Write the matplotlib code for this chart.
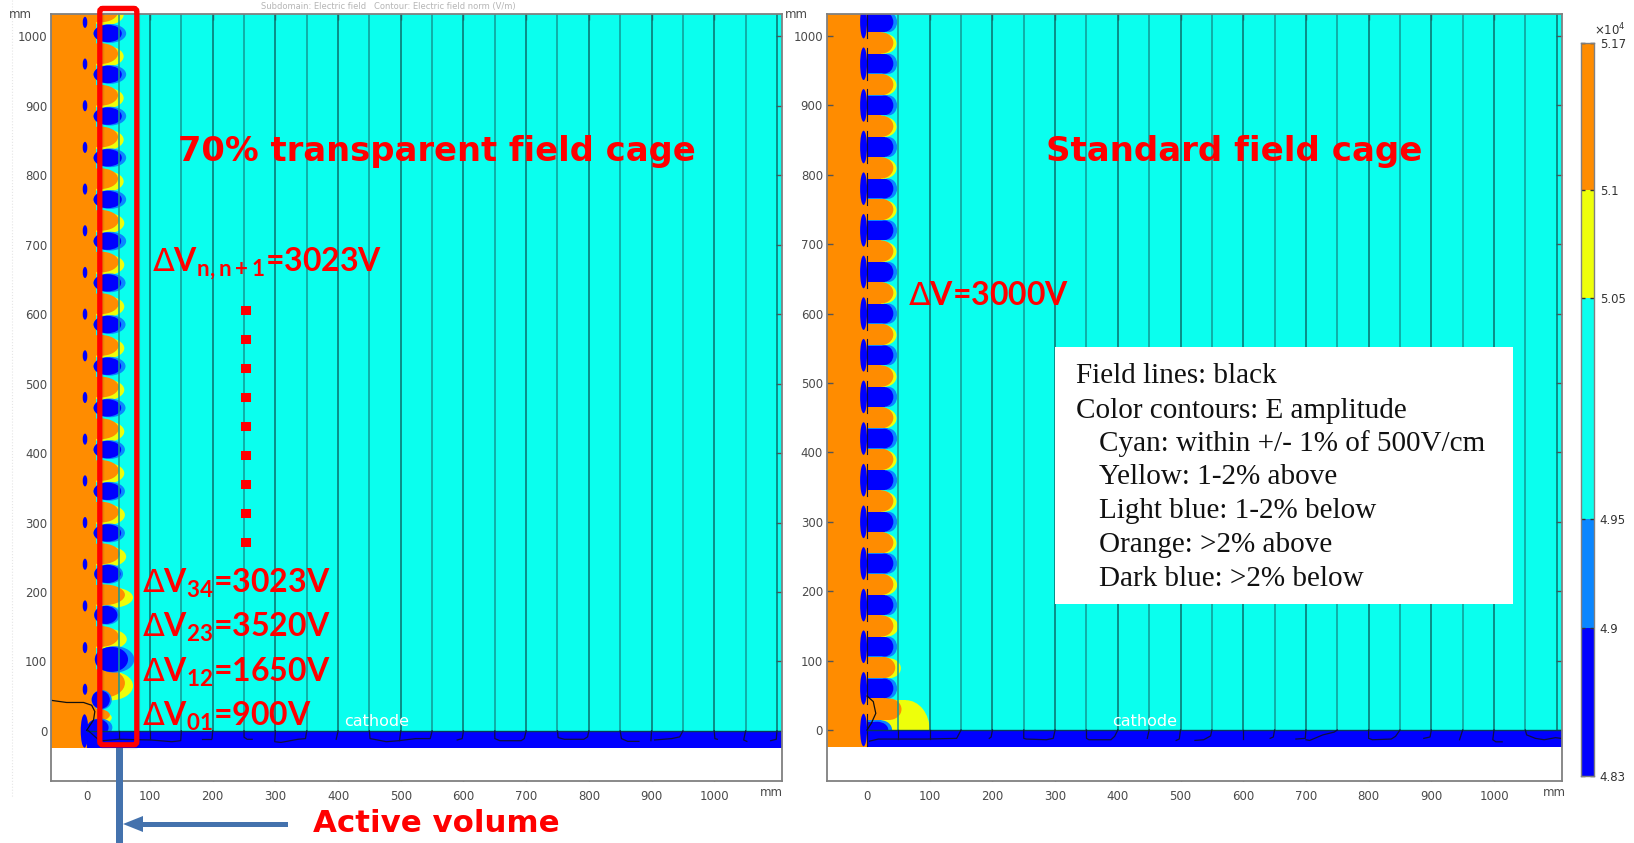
import matplotlib
matplotlib.use('Agg')
import matplotlib.pyplot as plt
import numpy as np
from matplotlib.patches import Ellipse, Rectangle, FancyBboxPatch, Polygon

W, H = 1634, 843

ORANGE = '#ff8c00'
YELLOW = '#eeff0a'
CYAN = '#0affee'
LIGHT_BLUE = '#0a86ff'
BLUE = '#0000ff'
RED = '#ff0000'
ARROW_BLUE = '#4472ad'
GRAY = '#808080'

# colour bar
cbar_levels = [4.83, 4.9, 4.95, 5.05, 5.1, 5.17]
cbar_colors = [BLUE, LIGHT_BLUE, CYAN, YELLOW, ORANGE]
cbar_labels = ['4.83', '4.9', '4.95', '5.05', '5.1', '5.17']
cbar_px = [775.7, 628.3, 519, 298, 189.7, 42.7]

x_ticks = [0, 100, 200, 300, 400, 500, 600, 700, 800, 900, 1000]
y_ticks = [0, 100, 200, 300, 400, 500, 600, 700, 800, 900, 1000]

# field lines, mm
line_x = [50, 100, 150, 200, 250, 300, 350, 400, 450, 500, 550,
          600, 650, 700, 750, 800, 850, 900, 950, 1000, 1050, 1100]

# left panel, 70% transparent cage
left_ring_y = [60, 120, 180, 240, 300, 360, 420, 480, 540, 600, 660, 720, 780, 840, 900, 960, 1020]
left_blue_y = [5, 45, 103, 167, 226, 285, 345, 405, 465, 525, 585, 645, 705, 765, 825, 885, 945, 1004]
left_blue_start = [0, 7, 12, 11, 11, 10, 10, 10, 10, 10, 10, 10, 10, 10, 10, 10, 10, 10]
left_blue_end = [34, 36, 65, 48, 53, 54, 54, 54, 54, 54, 54, 54, 54, 55, 55, 55, 55, 55]
left_halo_end = [40, 39, 75, 52, 57, 60, 60, 60, 61, 61, 61, 61, 62, 62, 62, 62, 62, 62]
left_blue_h = [24, 26, 36, 26, 26, 25, 25, 25, 25, 25, 25, 25, 25, 25, 25, 25, 25, 25]
left_orange_y = [23, 69, 136, 196, 255, 315, 375, 435, 495, 555, 615, 675, 735, 795, 855, 915, 975, 1035]
left_orange_end = [36, 60, 50, 60, 52, 50, 50, 50, 50, 50, 50, 50, 50, 49, 49, 49, 49, 49]
left_yellow_end = [39, 73, 63, 73, 62, 60, 59, 59, 59, 59, 59, 59, 59, 58, 58, 58, 58, 58]
left_orange_h = [18, 42, 30, 30, 30, 30, 30, 30, 30, 30, 30, 30, 30, 30, 30, 30, 30, 30]

# right panel, standard cage
right_ring_y = [0, 60, 120, 180, 240, 300, 360, 420, 480, 540, 600, 660, 720, 780, 840, 900, 960, 1020]
right_blue_y = [60, 120, 180, 240, 300, 360, 420, 480, 540, 600, 660, 720, 780, 840, 900, 960, 1020]
right_orange_y = [30, 90, 150, 210, 270, 330, 390, 450, 510, 570, 630, 690, 750, 810, 870, 930, 990]
right_orange_end = [55, 45, 42, 42, 42, 42, 42, 42, 42, 42, 42, 42, 42, 42, 42, 42, 42]
right_yellow_end = [55, 54, 50, 48, 47, 47, 47, 47, 47, 47, 47, 47, 47, 47, 47, 47, 47]

# tails of the field lines inside the cathode, (x, y) mm
left_tails = [
    [(25, -14), (50, -12), (102, -13), (135, -15.5), (149, -14), (150, 0)],
    [(50, 0), (50, -12)], [(100, 0), (100, -12)],
    [(1, 1), (12, -8), (20, -14)],
    [(200, 0), (199, -11)], [(183, -12), (197, -12)],
    [(250, 0), (250, -9), (255, -12), (263, -12)],
    [(300, 0), (299, -15.5), (309, -16.5), (336, -12), (348, -11), (350, 0)],
    [(400, 0), (397, -12)],
    [(450, 0), (451, -11), (463, -13), (477, -15.5), (497, -14), (524, -11), (547, -11), (550, 0)],
    [(500, 0), (498, -14)],
    [(600, 0), (598, -11), (590, -13)],
    [(650, 0), (650, -11), (658, -14), (692, -14), (697, -11), (700, 0)],
    [(750, 0), (751, -9.5), (761, -12), (792, -12), (798, -8.5), (800, 0)],
    [(850, 0), (852, -11), (862, -15), (880, -15)],
    [(900, 0), (899, -14)], [(905, -13), (932, -11), (945, -8.5), (950, 0)],
    [(1000, 0), (1001, -11), (1005, -12)],
    [(1050, 0), (1047, -13), (1052, -15)],
    [(1100, 0), (1099, -12), (1090, -14)],
]
right_tails = [
    [(4, -16), (18, -13), (96, -13), (143, -12), (150, 0)],
    [(50, 0), (50, -13)], [(100, 0), (100, -13)],
    [(200, 0), (198, -10), (195, -12)],
    [(250, 0), (250, -12), (254, -13), (286, -14), (297, -12), (300, 0)],
    [(350, 0), (350, -12), (354, -14), (389, -14), (395, -9), (400, 0)],
    [(450, 0), (447, -12)],
    [(500, 0), (498, -13), (493, -15)],
    [(550, 0), (548, -8.5), (537, -14), (523, -15)],
    [(600, 0), (600, -13)],
    [(650, 0), (648, -10), (643, -12)],
    [(700, 0), (699, -12), (684, -13)], [(700, -14), (706, -15), (727, -7), (745, -3), (750, 0)],
    [(800, 0), (800, -12), (806, -14), (836, -13), (843, -9), (850, 0)],
    [(900, 0), (898, -10), (888, -12)],
    [(950, 0), (945, -14)],
    [(1000, 0), (998, -14), (1003, -17), (1013, -17)],
    [(1050, 0), (1052, -7), (1066, -12), (1080, -14), (1098, -11), (1107, -12)],
]
left_loop = [(-57, 44), (-33, 41), (-6, 41), (7, 37), (12, 28), (10, 16), (-1, 1)]
right_loop = [(0, 49), (10, 41), (14, 24), (7, 10), (0, 0)]

# annotation texts, pixel baseline positions
dv_labels = [r'$\mathsf{\Delta}$V$_{\mathrm{n,n+1}}$=3023V', r'$\mathsf{\Delta}$V$_{\mathrm{34}}$=3023V',
             r'$\mathsf{\Delta}$V$_{\mathrm{23}}$=3520V', r'$\mathsf{\Delta}$V$_{\mathrm{12}}$=1650V',
             r'$\mathsf{\Delta}$V$_{\mathrm{01}}$=900V', r'$\mathsf{\Delta}$V=3000V']
dv_x = [152, 142, 142, 142, 142, 908]
dv_y = [272, 593, 637, 682, 726, 305]

dot_y = [310, 339, 368, 397, 426, 455, 484, 513, 542]
legend_lines = ['Field lines: black', 'Color contours: E amplitude',
                'Cyan: within +/- 1% of 500V/cm', 'Yellow: 1-2% above',
                'Light blue: 1-2% below', 'Orange: >2% above', 'Dark blue: >2% below']
legend_x = [1076, 1076, 1099, 1099, 1099, 1099, 1099]
legend_y = [383, 418, 451, 484, 518, 552, 586]

plt.rcParams['font.family'] = 'DejaVu Sans'
plt.rcParams['mathtext.default'] = 'regular'
plt.rcParams['mathtext.fontset'] = 'custom'
plt.rcParams['mathtext.rm'] = 'Lato:bold'
plt.rcParams['mathtext.bf'] = 'Lato:bold'
plt.rcParams['mathtext.it'] = 'Lato:bold'
plt.rcParams['mathtext.sf'] = 'DejaVu Sans'


def box(l, t, r, b):
    return [l / W, 1 - b / H, (r - l) / W, (b - t) / H]


def setup_axes(ax, xlim, ylim):
    ax.set_xlim(xlim)
    ax.set_ylim(ylim)
    ax.set_xticks(x_ticks)
    ax.set_yticks(y_ticks)
    ax.tick_params(direction='in', top=True, right=True, length=4, width=1,
                   color='#555555', labelcolor='#4a4a4a', labelsize=8.5)
    ax.tick_params(axis='x', pad=7)
    ax.tick_params(axis='y', pad=2.7)
    for s in ax.spines.values():
        s.set_color(GRAY)
        s.set_linewidth(1.3)
        s.set_zorder(8)
    # field background
    ax.axhspan(0, ylim[1], color=CYAN, lw=0, zorder=1)
    ax.axhspan(-25, 0, xmin=(0 - xlim[0]) / (xlim[1] - xlim[0]), color=BLUE, lw=0, zorder=3)
    ax.axhspan(ylim[0], -25, color='white', lw=0, zorder=3.2)
    for i, x in enumerate(line_x):
        c = '#0b6f6c' if i % 2 else '#119a95'
        ax.plot([x, x], [0, ylim[1]], color=c, lw=1.1, zorder=4)
    ax.plot([0, xlim[1]], [0, 0], color='#063a5a', lw=1, zorder=5)


def ellipse(ax, x0, x1, y, h, color, z=2):
    ax.add_patch(Ellipse(((x0 + x1) / 2, y), x1 - x0, h, fc=color, ec='none', zorder=z))


def lobe(ax, x0, x1, y, h, r, color, z=2):
    # flat on the cage side, round towards the drift volume
    ax.add_patch(Rectangle((x0, y - h / 2), x1 - r - x0, h, fc=color, ec='none', zorder=z))
    ax.add_patch(Ellipse((x1 - r, y), 2 * r, h, fc=color, ec='none', zorder=z))


def draw_tails(ax, tails):
    for t in tails:
        ax.plot([p[0] for p in t], [p[1] for p in t], color='#101040', lw=0.9, zorder=6)


fig = plt.figure(figsize=(W / 100, H / 100), dpi=100, facecolor='white')

# left panel
ax1 = fig.add_axes(box(51, 14, 781.5, 780.7))
xlim1 = (-57.9, 1107.3)
ylim1 = (-71.6, 1032)
setup_axes(ax1, xlim1, ylim1)
ax1.add_patch(Rectangle((xlim1[0], -25), 14 - xlim1[0], ylim1[1] + 25, fc=ORANGE, ec='none', zorder=2.05))
for i, y in enumerate(left_orange_y):
    ellipse(ax1, 0, left_yellow_end[i], y - 4, left_orange_h[i], YELLOW, 2)
    ellipse(ax1, -8, left_orange_end[i], y, left_orange_h[i], ORANGE, 2.1)
for i, y in enumerate(left_blue_y):
    ellipse(ax1, left_blue_start[i], left_halo_end[i], y, left_blue_h[i] + 2, LIGHT_BLUE, 2.2)
    ellipse(ax1, left_blue_start[i], left_blue_end[i], y, left_blue_h[i], BLUE, 2.3)
for y in left_ring_y:
    ellipse(ax1, -7.3, 0, y, 16, BLUE, 2.5)
ellipse(ax1, -10.5, 1.6, 0, 48, BLUE, 3.5)
draw_tails(ax1, left_tails)
ax1.plot([p[0] for p in left_loop], [p[1] for p in left_loop], color='#101010', lw=0.9, zorder=6)

# right panel
ax2 = fig.add_axes(box(826.7, 13.5, 1562.3, 780.7))
xlim2 = (-64.3, 1108.9)
ylim2 = (-73, 1032.4)
setup_axes(ax2, xlim2, ylim2)
ax2.add_patch(Rectangle((xlim2[0], -25), 22 - xlim2[0], ylim2[1] + 25, fc=ORANGE, ec='none', zorder=1.5))
lobe(ax2, 24, 100, 0, 86, 38, YELLOW, 1.8)
for i, y in enumerate(right_orange_y):
    lobe(ax2, 0, right_yellow_end[i], y - 1, 29, 20, YELLOW, 2)
    lobe(ax2, 0, right_orange_end[i], y, 31, 20, ORANGE, 2.1)
lobe(ax2, 0, 40, 0, 28, 18, LIGHT_BLUE, 2.2)
lobe(ax2, 0, 34, 0, 24, 18, BLUE, 2.3)
for y in right_blue_y:
    lobe(ax2, 0, 48, y, 29, 14, LIGHT_BLUE, 2.2)
    lobe(ax2, 0, 42, y, 28, 14, BLUE, 2.3)
for y in right_ring_y:
    ellipse(ax2, -11, 0, y, 47, BLUE, 3.5)
    ax2.plot([0, 0], [y - 23, y + 23], color='#101040', lw=0.8, zorder=3.6)
draw_tails(ax2, right_tails)
ax2.plot([p[0] for p in right_loop], [p[1] for p in right_loop], color='#101010', lw=0.9, zorder=6)

# colour bar, the scale is taken from where the levels sit in the picture
cax = fig.add_axes(box(1580.7, 42.7, 1594.3, 775.7))
cbar_pos = [-p for p in cbar_px]
for i, c in enumerate(cbar_colors):
    cax.bar(0, cbar_levels[i + 1] - cbar_levels[i], bottom=cbar_levels[i], width=1, color=c, lw=0)
cax.set_yscale('function', functions=(lambda v: np.interp(v, cbar_levels, cbar_pos),
                                      lambda p: np.interp(p, cbar_pos, cbar_levels)))
cax.set_xlim(-0.5, 0.5)
cax.set_ylim(cbar_levels[0], cbar_levels[-1])
cax.set_xticks([])
cax.set_yticks(cbar_levels)
cax.set_yticklabels(cbar_labels)
cax.minorticks_off()
cax.yaxis.tick_right()
cax.tick_params(axis='y', direction='in', left=True, right=True, length=3, width=1,
                color='#333333', labelcolor='#333333', labelsize=8.5, pad=4)
for s in cax.spines.values():
    s.set_color(GRAY)
    s.set_linewidth(1)

# everything placed on top of the panels, in image pixels
top = fig.add_axes([0, 0, 1, 1], zorder=20)
top.set_xlim(0, W)
top.set_ylim(H, 0)
top.axis('off')
top.patch.set_alpha(0)

top.plot([12, 12], [0, 797], color='#e6e6e6', lw=0.8, ls=':')
top.text(261, 9, 'Subdomain: Electric field   Contour: Electric field norm (V/m)',
         color='#b5b5b5', fontsize=6, va='baseline', ha='left')
top.add_patch(Rectangle((0, 0), W, 6, fc='white', ec='none'))
top.text(20, 15, 'mm', color='#4a4a4a', fontsize=8.5, ha='center', va='center')
top.text(796, 15, 'mm', color='#4a4a4a', fontsize=8.5, ha='center', va='center')
top.text(771, 792, 'mm', color='#4a4a4a', fontsize=8.5, ha='center', va='center')
top.text(1554, 793, 'mm', color='#4a4a4a', fontsize=8.5, ha='center', va='center')
top.text(1594, 30, r'$\times$10$^{4}$', color='#333333', fontsize=8.5, ha='left', va='center',
         math_fontfamily='dejavusans')

top.text(377, 722, 'cathode', color='white', fontsize=11.5, ha='center', va='center')
top.text(1145, 721, 'cathode', color='white', fontsize=11.5, ha='center', va='center')

# active volume box, arrow
top.add_patch(FancyBboxPatch((101.5, 11), 36, 735.5, boxstyle='round,pad=0,rounding_size=3',
                             fc='none', ec='#000000', lw=4, alpha=0.08))
top.add_patch(FancyBboxPatch((99.8, 8.4), 37, 736.4, boxstyle='round,pad=0,rounding_size=3',
                             fc='none', ec=RED, lw=3.8))
top.add_patch(Rectangle((116, 748), 6.7, 95, fc=ARROW_BLUE, ec='none'))
top.add_patch(Rectangle((142, 821.5), 146, 5, fc=ARROW_BLUE, ec='none'))
top.add_patch(Polygon([(123, 824), (143, 816), (143, 832)], fc=ARROW_BLUE, ec='none'))

top.text(436.6, 151, '70% transparent field cage', color=RED, fontsize=24.3, fontweight='bold',
         ha='center', va='center')
top.text(1234, 151, 'Standard field cage', color=RED, fontsize=24.5, fontweight='bold',
         ha='center', va='center')
top.text(436, 824, 'Active volume', color=RED, fontsize=22.2, fontweight='bold',
         ha='center', va='center')

for lab, x, y in zip(dv_labels, dv_x, dv_y):
    top.text(x, y, lab, color=RED, fontsize=23, family='Lato', fontweight='bold',
             ha='left', va='baseline')

for y in dot_y:
    top.add_patch(Rectangle((241, y - 4.5), 10, 9, fc=RED, ec='none'))

top.add_patch(Rectangle((1054.7, 347.3), 458.3, 256.7, fc='white', ec='none'))
for line, x, y in zip(legend_lines, legend_x, legend_y):
    top.text(x, y, line, color='#111111', fontsize=21, family='Liberation Serif',
             ha='left', va='baseline')

fig.savefig('out.png', dpi=100)
